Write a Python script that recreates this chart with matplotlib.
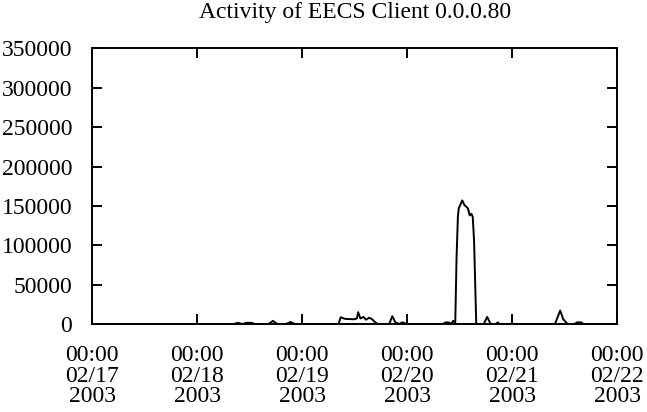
import matplotlib
matplotlib.use("Agg")
import matplotlib.pyplot as plt

# hours since 00:00 02/17/2003, bytes
hours = [0, 32.3, 33.3, 34.3, 35.3, 36.3, 37.3, 40.3, 41.3, 42.3, 44.3, 45.3, 46.3,
         56.3, 56.8, 57.8, 59.8, 60.5, 60.8, 61.3, 62.0, 62.6, 63.3, 64.0, 64.7, 65.3,
         67.9, 68.6, 69.3, 70.3, 70.8, 71.3, 71.8, 80.1, 80.8, 81.5, 82.1, 82.5, 83.0,
         83.3, 83.6, 83.8, 84.6, 85.1, 85.9, 86.3, 86.7, 87.0, 87.3, 87.5, 87.8,
         89.5, 90.3, 91.1, 92.3, 92.7, 93.1,
         105.8, 107.0, 107.7, 108.7, 110.3, 110.8, 111.8, 112.3, 120]
values = [0, 0, 1500, 0, 1500, 1500, 0, 0, 4000, 0, 0, 2500, 0,
          0, 8500, 6500, 6000, 7000, 15000, 7000, 9000, 5500, 8000, 6000, 2000, 0,
          0, 10000, 2000, 0, 2000, 1500, 0, 0, 2000, 2000, 0, 4000, 1500,
          85000, 136000, 147000, 157000, 151000, 147000, 138000, 140000, 136000, 106000, 64000, 0,
          0, 9000, 0, 0, 2000, 0,
          0, 17000, 6000, 0, 0, 2000, 2000, 0, 0]
tick_labels = ["00:00\n02/17\n2003", "00:00\n02/18\n2003", "00:00\n02/19\n2003",
               "00:00\n02/20\n2003", "00:00\n02/21\n2003", "00:00\n02/22\n2003"]
yticks = [0, 50000, 100000, 150000, 200000, 250000, 300000, 350000]

plt.rcParams['font.family'] = ['Liberation Serif', 'DejaVu Serif']
fig = plt.figure(figsize=(6.47, 4.12), dpi=100)
ax = fig.add_axes([0.1427, 0.2136, 0.811, 0.6687])
ax.plot(hours, values, color="black", lw=1.4)
ax.set_xlim(0, 120)
ax.set_ylim(0, 350000)
ax.set_xticks([24 * i for i in range(len(tick_labels))])
ax.set_xticklabels(tick_labels, linespacing=0.98)
ax.set_yticks(yticks)
ax.set_yticklabels([str(v) for v in yticks])
ax.tick_params(direction="in", length=7.2, width=1.4, top=True, right=True,
               labelsize=17)
ax.tick_params(axis="x", pad=15)
ax.tick_params(axis="y", pad=14.5)
for s in ax.spines.values():
    s.set_linewidth(1.4)
ax.set_title("Activity of EECS Client 0.0.0.80", fontsize=17, pad=22)
fig.savefig("out.png", dpi=100)
